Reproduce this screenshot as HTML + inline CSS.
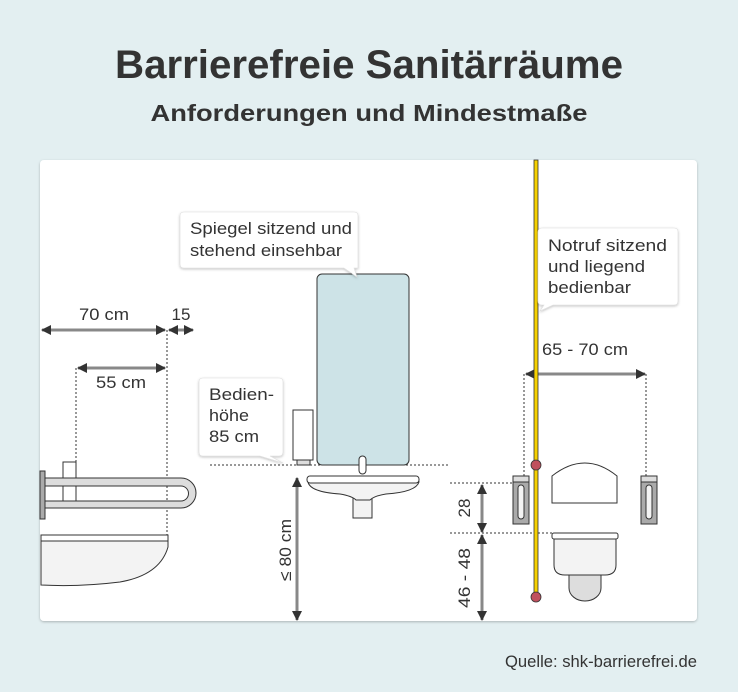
<!DOCTYPE html>
<html><head><meta charset="utf-8"><style>
html,body{margin:0;padding:0;background:#e3eff1;}
svg{display:block;font-family:"Liberation Sans",sans-serif;}
</style></head><body>
<svg width="738" height="692" viewBox="0 0 738 692" xmlns="http://www.w3.org/2000/svg">
<defs>
<marker id="ah" markerWidth="10" markerHeight="10" refX="9" refY="5" orient="auto-start-reverse" markerUnits="userSpaceOnUse"><path d="M0,0 L10,5 L0,10z" fill="#333"/></marker>
<filter id="sh" x="-10%" y="-10%" width="120%" height="130%"><feDropShadow dx="0" dy="1" stdDeviation="1.2" flood-color="#000" flood-opacity="0.25"/></filter>
</defs>
<rect width="738" height="692" fill="#e3eff1"/>
<text x="369" y="78" text-anchor="middle" font-size="40" font-weight="bold" fill="#333" textLength="508" lengthAdjust="spacingAndGlyphs">Barrierefreie Sanitärräume</text>
<text x="369" y="121" text-anchor="middle" font-size="23" font-weight="bold" fill="#333" textLength="437" lengthAdjust="spacingAndGlyphs">Anforderungen und Mindestmaße</text>
<rect x="40" y="160" width="657" height="461" rx="4" fill="#fff" filter="url(#sh)"/>

<g stroke="#888" stroke-width="3" fill="none">
<line x1="42" y1="330" x2="165" y2="330" marker-start="url(#ah)" marker-end="url(#ah)"/>
<line x1="169" y1="330" x2="193" y2="330" marker-start="url(#ah)" marker-end="url(#ah)"/>
<line x1="78" y1="368" x2="165" y2="368" marker-start="url(#ah)" marker-end="url(#ah)"/>
<line x1="297" y1="478" x2="297" y2="620" marker-start="url(#ah)" marker-end="url(#ah)"/>
<line x1="526" y1="374" x2="645" y2="374" marker-start="url(#ah)" marker-end="url(#ah)"/>
<line x1="482" y1="485" x2="482" y2="532" marker-start="url(#ah)" marker-end="url(#ah)"/>
<line x1="482" y1="535" x2="482" y2="620" marker-start="url(#ah)" marker-end="url(#ah)"/>
</g>
<g stroke="#333" stroke-width="1" stroke-dasharray="2,2" fill="none">
<line x1="167" y1="330" x2="167" y2="545"/>
<line x1="76" y1="368" x2="76" y2="462"/>
<line x1="210" y1="465" x2="450" y2="465"/>
<line x1="524" y1="374" x2="524" y2="476"/>
<line x1="646" y1="374" x2="646" y2="476"/>
<line x1="450" y1="483" x2="513" y2="483"/>
<line x1="450" y1="533" x2="552" y2="533"/>
</g>
<g font-size="17" fill="#333">
<text x="104" y="320" text-anchor="middle" textLength="50" lengthAdjust="spacingAndGlyphs">70 cm</text>
<text x="181" y="320" text-anchor="middle">15</text>
<text x="121" y="388" text-anchor="middle" textLength="50" lengthAdjust="spacingAndGlyphs">55 cm</text>
<text x="585" y="355" text-anchor="middle" textLength="86" lengthAdjust="spacingAndGlyphs">65 - 70 cm</text>
<text transform="translate(291,550) rotate(-90)" text-anchor="middle" textLength="62" lengthAdjust="spacingAndGlyphs">≤ 80 cm</text>
<text transform="translate(470,508) rotate(-90)" text-anchor="middle">28</text>
<text transform="translate(470,578) rotate(-90)" text-anchor="middle" textLength="60" lengthAdjust="spacingAndGlyphs">46 - 48</text>
</g>

<rect x="63" y="462" width="13" height="40" fill="#fff" stroke="#333"/>
<path d="M45,478 H181 A12,12 0 0 1 181,508 H45 V501 H181 A5,5 0 0 0 181,486 H45 Z" fill="#ddd" stroke="#333"/>
<rect x="40" y="471" width="5" height="48" fill="#aaa" stroke="#333"/>
<rect x="41" y="535" width="127" height="6" fill="#fff" stroke="#333"/>
<path d="M41,541 H168 V547 Q160,575 120,582 Q80,587 41,585 Z" fill="#f3f3f3" stroke="#333"/>

<rect x="317" y="274" width="92" height="191" rx="5" fill="#cde3e7" stroke="#333"/>
<rect x="293" y="410" width="20" height="50" fill="#fff" stroke="#333"/>
<rect x="297" y="460" width="13" height="5" fill="#ddd" stroke="#333"/>
<rect x="359" y="456" width="7" height="18" rx="3.5" fill="#fff" stroke="#333"/>
<path d="M353,496 H372 V518 H353 Z" fill="#f3f3f3" stroke="#333"/>
<path d="M308,482 Q310,492 340,494 Q352,496 356,500 H370 Q374,496 386,494 Q416,492 419,482 Z" fill="#f3f3f3" stroke="#333"/>
<rect x="307" y="476" width="112" height="7" rx="3" fill="#fff" stroke="#333"/>

<rect x="513" y="476" width="16" height="48" fill="#aaa" stroke="#333"/>
<rect x="513" y="476" width="16" height="6" fill="#ddd" stroke="#333"/>
<rect x="518" y="485" width="6" height="34" rx="3" fill="#f3f3f3" stroke="#333"/>
<rect x="641" y="476" width="16" height="48" fill="#aaa" stroke="#333"/>
<rect x="641" y="476" width="16" height="6" fill="#ddd" stroke="#333"/>
<rect x="646" y="485" width="6" height="34" rx="3" fill="#f3f3f3" stroke="#333"/>
<path d="M552,503 V476 Q585,450 617,476 V503 Z" fill="#fff" stroke="#333"/>
<path d="M569,572 H601 V588 A16,13 0 0 1 569,588 Z" fill="#ddd" stroke="#333"/>
<path d="M554,539 H616 V565 Q616,575 605,575 H565 Q554,575 554,565 Z" fill="#f3f3f3" stroke="#333"/>
<rect x="552" y="533" width="66" height="6" rx="2" fill="#fff" stroke="#333"/>

<rect x="534" y="160" width="4" height="438" fill="#f5d000" stroke="#333" stroke-width="0.8"/>
<circle cx="536" cy="465" r="5" fill="#c0505e" stroke="#333" stroke-width="0.8"/>
<circle cx="536" cy="597" r="5" fill="#c0505e" stroke="#333" stroke-width="0.8"/>

<g filter="url(#sh)" fill="#fff" stroke="#ddd" stroke-width="0.6">
<path d="M184,212 H354 Q358,212 358,216 V268 H354 L357,277 L344,268 H184 Q180,268 180,264 V216 Q180,212 184,212 Z"/>
<path d="M203,378 H279 Q283,378 283,382 V452 Q283,456 279,456 H270 L283,463 L260,456 H203 Q199,456 199,452 V382 Q199,378 203,378 Z"/>
<path d="M542,228 H674 Q678,228 678,232 V301 Q678,305 674,305 H553 L540,311 L544,305 H542 Q538,305 538,301 V232 Q538,228 542,228 Z"/>
</g>
<g font-size="16.5" fill="#333">
<text x="190" y="234" textLength="162" lengthAdjust="spacingAndGlyphs">Spiegel sitzend und</text>
<text x="190" y="256" textLength="152" lengthAdjust="spacingAndGlyphs">stehend einsehbar</text>
<text x="209" y="400" textLength="65" lengthAdjust="spacingAndGlyphs">Bedien-</text>
<text x="209" y="421" textLength="40" lengthAdjust="spacingAndGlyphs">höhe</text>
<text x="209" y="442" textLength="50" lengthAdjust="spacingAndGlyphs">85 cm</text>
<text x="548" y="251" textLength="119" lengthAdjust="spacingAndGlyphs">Notruf sitzend</text>
<text x="548" y="272" textLength="97" lengthAdjust="spacingAndGlyphs">und liegend</text>
<text x="548" y="293" textLength="83" lengthAdjust="spacingAndGlyphs">bedienbar</text>
<text x="697" y="667" text-anchor="end" textLength="192" lengthAdjust="spacingAndGlyphs">Quelle: shk-barrierefrei.de</text>
</g>
</svg>
</body></html>
